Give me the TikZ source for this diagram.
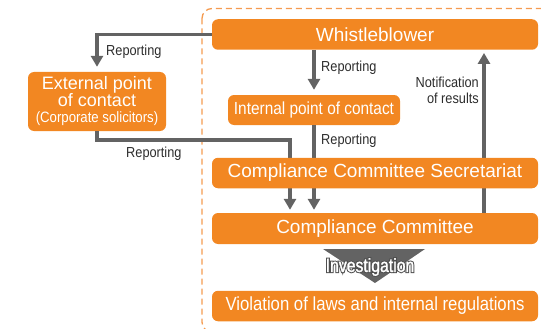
\documentclass[tikz,border=0pt]{standalone}
\usepackage{fontspec}
\setmainfont{Liberation Sans}
\newfontfamily\narrowfont[FakeStretch=0.88]{Liberation Sans}
\newfontfamily\condfont[FakeStretch=0.83, FakeBold=1.5]{Liberation Sans}
\newfontfamily\condedge[FakeStretch=0.83, FakeBold=12]{Liberation Sans}
\usepackage{tikz}
\usetikzlibrary{arrows.meta, positioning, calc}
\definecolor{WBOrange}{RGB}{242, 135, 34}
\definecolor{WBDash}{RGB}{245, 155, 80}
\definecolor{WBGray}{RGB}{99, 99, 99}
\definecolor{WBText}{RGB}{45, 45, 45}

\tikzset{
  box/.style={fill=WBOrange, rounded corners=6pt, text=white, inner sep=0pt, align=center},
  widebox/.style={box, minimum width=326pt, minimum height=30.5pt, font=\fontsize{19}{21}\selectfont},
  flow/.style={draw=WBGray, line width=3.6pt, -{Triangle[length=11pt, width=12pt]}},
  lbl/.style={font=\narrowfont\fontsize{14.5}{16}\selectfont, text=WBText, inner sep=0pt},
  invtxt/.style={font=\condfont\fontsize{19}{21}\selectfont, inner sep=0pt},
}

\begin{document}
\begin{tikzpicture}[x=1pt,y=-1pt]
  \path[use as bounding box] (0,0) rectangle (541,329);
  \clip (0,0) rectangle (541,329);
  \draw[WBDash, line width=1.3pt, dash pattern=on 6pt off 4pt, rounded corners=10pt] (202,8.5) rectangle (570,332);

  \node[widebox] (wb) at (375,34.5) {Whistleblower};
  \node[box, minimum width=138pt, minimum height=59pt, font=\fontsize{18}{17}\selectfont] (ext) at (97,101.5)
    {External point\\of contact\\[-1pt]\narrowfont\fontsize{15}{15}\selectfont (Corporate solicitors)};
  \node[box, minimum width=172pt, minimum height=30pt, font=\narrowfont\fontsize{17.5}{19}\selectfont] (int) at (314,110) {Internal point of contact};
  \node[widebox, minimum height=31pt] (com) at (375,228.5) {Compliance Committee};
  \node[widebox, font=\narrowfont\fontsize{19}{21}\selectfont] (vio) at (375,306) {Violation of laws and internal regulations};

  \fill[WBGray] (323,249) -- (425,249) -- (375,283) -- cycle;
  \node[invtxt, font=\condedge\fontsize{19}{21}\selectfont, text=WBGray!80!black] (invedge) at (370,267) {Investigation};
  \node[invtxt, text=white] (inv) at (invedge) {Investigation};

  \draw[flow, shorten >=5pt] (wb.west) -| (ext.north);
  \draw[flow, shorten >=5pt] (int.north |- wb.south) -- (int.north);
  \draw[flow, shorten >=3pt] (int.south) -- (int.south |- com.north);
  \draw[flow, shorten >=3pt] (ext.south) -- ++(0,9) -| ([xshift=-85pt]com.north);
  \draw[flow, shorten >=3pt] ([xshift=109pt]com.north) -- ([xshift=109pt]wb.south);

  \node[lbl, anchor=base west] (rep1) at (106,56) {Reporting};
  \node[lbl, anchor=base west] (rep2) at (321,71) {Reporting};
  \node[lbl, anchor=base west] (rep3) at (321,144) {Reporting};
  \node[lbl, anchor=base west] (rep4) at (126,157) {Reporting};
  \node[lbl, anchor=east, align=right] (note) at (479,90.5) {Notification\\of results};

  % secretariat last: the arrows run behind it
  \node[widebox] (sec) at (375,173) {Compliance Committee Secretariat};
\end{tikzpicture}
\end{document}
